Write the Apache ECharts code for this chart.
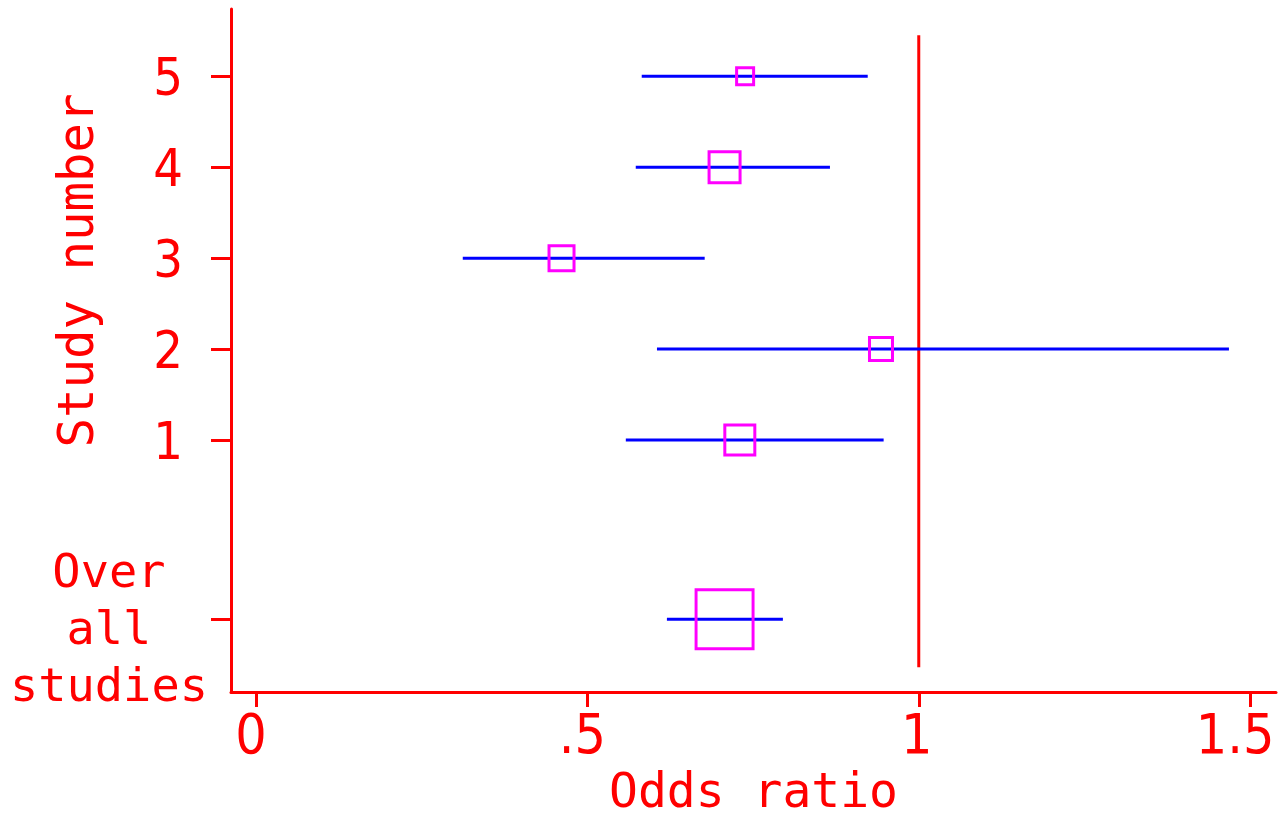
<!DOCTYPE html>
<html>
<head>
<meta charset="utf-8">
<script src="https://cdn.jsdelivr.net/npm/echarts@6/dist/echarts.min.js"></script>
<style>
  html, body { margin: 0; padding: 0; background: #fff; }
  #chart { width: 1281px; height: 818px; }
</style>
</head>
<body>
<div id="chart"></div>
<script>
// ---- data ----
const studyPos   = [1, 2, 3, 4, 5];
const oddsRatio  = [0.730, 0.943, 0.461, 0.707, 0.738];
const ciLow      = [0.558, 0.605, 0.312, 0.573, 0.582];
const ciHigh     = [0.947, 1.468, 0.677, 0.866, 0.923];
const boxWeight  = [30, 23, 25, 31, 17];

const overallPos    = -0.97;
const overallOR     = 0.707;
const overallLow    = 0.620;
const overallHigh   = 0.795;
const overallWeight = [57, 59];

const refValue  = 1;
const refExtent = [-1.5, 5.45];

const xTickValues = [0, 0.5, 1, 1.5];
const xTickLabels = ['0', '.5', '1', '1.5'];
const yTickValues = [1, 2, 3, 4, 5, overallPos];
const yTickLabels = ['1', '2', '3', '4', '5', 'Over\nall\nstudies'];

const xTitle = 'Odds ratio';
const yTitle = 'Study number';

// ---- build chart ----
const RED = '#ff0000', BLUE = '#0000ff', MAG = '#ff00ff';
const MONO = "'DejaVu Sans Mono', monospace";
const NARROW = "'Liberation Sans Narrow', 'DejaVu Sans Condensed', 'DejaVu Sans Mono', sans-serif";

const ciData = studyPos.map((y, i) => [ciLow[i], ciHigh[i], y]);
ciData.push([overallLow, overallHigh, overallPos]);

const boxData = studyPos.map((y, i) => ({ value: [oddsRatio[i], y], symbolSize: [boxWeight[i], boxWeight[i]] }));
boxData.push({ value: [overallOR, overallPos], symbolSize: overallWeight });

// label styles (slight left shifts, as in the reference)
const xRich = {
  x0: { color: RED, fontFamily: NARROW, fontSize: 55, padding: [0, 10, 0, 0] },
  x1: { color: RED, fontFamily: NARROW, fontSize: 55, padding: [0, 10, 0, 0] },
  x2: { color: RED, fontFamily: NARROW, fontSize: 55, padding: [0, 4, 0, 0] },
  x3: { color: RED, fontFamily: NARROW, fontSize: 55, padding: [0, 30, 0, 0] }
};

const chart = echarts.init(document.getElementById('chart'), null, { renderer: 'canvas' });
chart.setOption({
  animation: false,
  backgroundColor: '#ffffff',
  grid: { left: 231, right: 5, top: 9, bottom: 126, containLabel: false, outerBoundsMode: 'none' },
  xAxis: {
    type: 'value',
    min: -0.0377,
    max: 1.539,
    name: xTitle,
    nameLocation: 'middle',
    nameGap: 79,
    nameMoveOverlap: false,
    nameTextStyle: { color: RED, fontFamily: MONO, fontSize: 48 },
    axisLine: { show: true, onZero: false, lineStyle: { color: RED, width: 3 } },
    axisTick: { show: true, length: 15, customValues: xTickValues, lineStyle: { color: RED, width: 3 } },
    axisLabel: {
      color: RED, fontFamily: NARROW, fontSize: 55, margin: 19,
      customValues: xTickValues,
      formatter: v => {
        const i = xTickValues.indexOf(v);
        return i < 0 ? '' : '{x' + i + '|' + xTickLabels[i] + '}';
      },
      rich: xRich
    },
    splitLine: { show: false }
  },
  yAxis: {
    type: 'value',
    min: -1.771,
    max: 5.74,
    name: yTitle,
    nameLocation: 'middle',
    nameGap: 126,
    nameRotate: 90,
    nameMoveOverlap: false,
    nameTextStyle: { color: RED, fontFamily: MONO, fontSize: 49, padding: [0, 0, 0, 160] },
    axisLine: { show: true, onZero: false, lineStyle: { color: RED, width: 3 } },
    axisTick: { show: true, length: 20, customValues: yTickValues, lineStyle: { color: RED, width: 3 } },
    axisLabel: {
      color: RED, margin: 23,
      customValues: yTickValues,
      formatter: v => {
        const i = yTickValues.indexOf(v);
        if (i < 0) return '';
        const t = yTickLabels[i];
        if (t.indexOf('\n') >= 0) {
          return '{s| }\n' + t.split('\n').map(p => '{o|' + p + '}').join('\n');
        }
        return '{d|' + t + '}';
      },
      rich: {
        d: { color: RED, fontFamily: NARROW, fontSize: 52, padding: [10, 25, 0, 0] },
        s: { fontSize: 10, lineHeight: 26, align: 'center' },
        o: { color: RED, fontFamily: MONO, fontSize: 47, lineHeight: 57, align: 'center' }
      }
    },
    splitLine: { show: false }
  },
  series: [
    {
      type: 'line',
      data: [[refValue, refExtent[0]], [refValue, refExtent[1]]],
      symbol: 'none',
      lineStyle: { color: RED, width: 3 },
      silent: true,
      z: 1
    },
    {
      type: 'custom',
      data: ciData,
      encode: { x: [0, 1], y: 2 },
      renderItem: (params, api) => {
        const a = api.coord([api.value(0), api.value(2)]);
        const b = api.coord([api.value(1), api.value(2)]);
        return {
          type: 'line',
          shape: { x1: a[0], y1: a[1], x2: b[0], y2: b[1] },
          style: { stroke: BLUE, lineWidth: 3 }
        };
      },
      z: 2
    },
    {
      type: 'scatter',
      symbol: 'rect',
      data: boxData,
      itemStyle: { color: 'rgba(0,0,0,0)', borderColor: MAG, borderWidth: 3, opacity: 1 },
      z: 3
    }
  ]
});
</script>
</body>
</html>
